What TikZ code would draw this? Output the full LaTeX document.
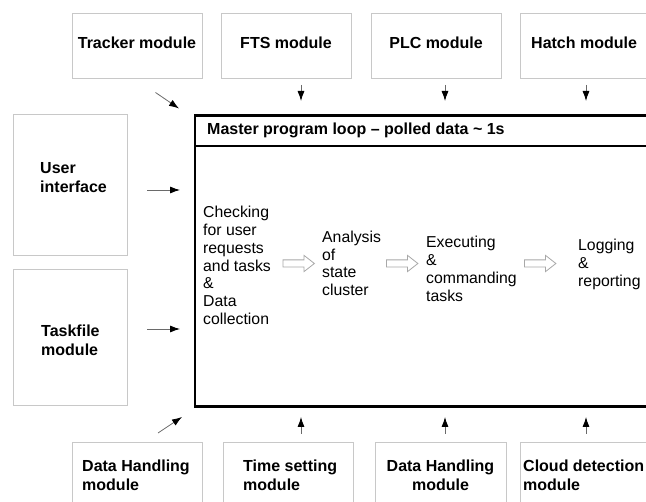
\documentclass[tikz,border=0pt]{standalone}
\usepackage{fontspec}
\setmainfont{Liberation Sans}
\usetikzlibrary{arrows.meta,shapes.arrows}
\definecolor{boxgray}{HTML}{C8C8C8}
\definecolor{linegray}{HTML}{6A6A6A}
\definecolor{hollowgray}{HTML}{A8A8A8}
\begin{document}
\begin{tikzpicture}[x=1pt,y=-1pt,
  modbox/.style={draw=boxgray, line width=1pt, inner sep=0pt, anchor=north west, rectangle},
  thickbox/.style={draw=black, line width=2.6pt, inner sep=0pt, anchor=north west, rectangle},
  boldtxt/.style={font=\bfseries\fontsize{16}{18.6}\selectfont, inner sep=0pt},
  bodytxt/.style={font=\fontsize{15.8}{17.8}\selectfont, align=left, inner sep=0pt, anchor=north west},
  conn/.style={draw=linegray, line width=0.8pt, -{Latex[length=10pt,width=7pt,fill=black,color=black]}},
  hollow/.style={single arrow, draw=hollowgray, fill=white, line width=0.8pt, inner xsep=0pt, inner ysep=3.2pt,
    single arrow head extend=4.5pt, single arrow tip angle=76, minimum height=31.5pt, anchor=west}
]
\clip (0,0) rectangle (646,502);
\fill[white] (0,0) rectangle (646,502);

% top modules
\node[modbox, minimum width=130pt, minimum height=65pt] (trackerbox) at (72,13) {};
\node[modbox, minimum width=130pt, minimum height=65pt] (ftsbox) at (221,13) {};
\node[modbox, minimum width=130pt, minimum height=65pt] (plcbox) at (371,13) {};
\node[modbox, minimum width=132pt, minimum height=65pt] (hatchbox) at (520,13) {};
\node[boldtxt, anchor=north] (trackertxt) at (137,36.7) {Tracker module};
\node[boldtxt, anchor=north] (ftstxt) at (286,36.7) {FTS module};
\node[boldtxt, anchor=north] (plctxt) at (436,36.7) {PLC module};
\node[boldtxt, anchor=north west] (hatchtxt) at (531,36.7) {Hatch module};

% left modules
\node[modbox, minimum width=114pt, minimum height=141pt] (userbox) at (13,114) {};
\node[modbox, minimum width=114pt, minimum height=136pt] (taskbox) at (13,269) {};
\node[boldtxt, align=left, anchor=north west] (usertxt) at (40,162.7) {User\\interface};
\node[boldtxt, align=left, anchor=north west] (tasktxt) at (41,325) {Taskfile\\module};

% bottom modules
\node[modbox, minimum width=130pt, minimum height=80pt] (dh1box) at (72,442) {};
\node[modbox, minimum width=130pt, minimum height=80pt] (timebox) at (223,442) {};
\node[modbox, minimum width=131pt, minimum height=80pt] (dh2box) at (375,442) {};
\node[modbox, minimum width=132pt, minimum height=80pt] (cloudbox) at (520,442) {};
\node[boldtxt, align=left, anchor=north west] (dh1txt) at (82,460) {Data Handling\\module};
\node[boldtxt, align=left, anchor=north west] (timetxt) at (243,460) {Time setting\\module};
\node[boldtxt, align=center, anchor=north] (dh2txt) at (440.5,460) {Data Handling\\module};
\node[boldtxt, align=left, anchor=north west] (cloudtxt) at (523,460) {Cloud detection\\module};

% master loop
\node[thickbox, minimum width=480pt, minimum height=291.3pt] (master) at (193.5,114) {};
\node[thickbox, minimum width=480pt, minimum height=30.7pt] (header) at (193.5,114) {};
\node[boldtxt, anchor=north west] (headertxt) at (207,123) {Master program loop -- polled data \textasciitilde{} 1s};

% stages
\node[bodytxt] (check) at (203,206) {Checking\\for user\\requests\\and tasks\\\&\\Data\\collection};
\node[bodytxt] (analysis) at (322,230.7) {Analysis\\of\\state\\cluster};
\node[bodytxt] (exec) at (426,236) {Executing\\\&\\commanding\\tasks};
\node[bodytxt] (log) at (578,239.3) {Logging\\\&\\reporting};
\node[hollow] (h1) at (282.5,263.5) {};
\node[hollow] (h2) at (386,263.5) {};
\node[hollow] (h3) at (524,263.5) {};

% connectors
\coordinate (trA) at (155.5,92.5);   \coordinate (trB) at (179,108.5);
\coordinate (ftsA) at (301,85);  \coordinate (ftsB) at (301,101);
\coordinate (plcA) at (445,85);  \coordinate (plcB) at (445,101);
\coordinate (hatA) at (586,85);  \coordinate (hatB) at (586,101);
\coordinate (usrA) at (147,190); \coordinate (usrB) at (180,190);
\coordinate (tskA) at (147,329); \coordinate (tskB) at (180,329);
\coordinate (dh1A) at (158,433); \coordinate (dh1B) at (182,417);
\coordinate (timA) at (301,434); \coordinate (timB) at (301,417);
\coordinate (dh2A) at (445,434); \coordinate (dh2B) at (445,417);
\coordinate (cldA) at (586,434); \coordinate (cldB) at (586,417);
\draw[conn] (trA) -- (trB);
\draw[conn] (ftsA) -- (ftsB);
\draw[conn] (plcA) -- (plcB);
\draw[conn] (hatA) -- (hatB);
\draw[conn] (usrA) -- (usrB);
\draw[conn] (tskA) -- (tskB);
\draw[conn] (dh1A) -- (dh1B);
\draw[conn] (timA) -- (timB);
\draw[conn] (dh2A) -- (dh2B);
\draw[conn] (cldA) -- (cldB);
\end{tikzpicture}
\end{document}
